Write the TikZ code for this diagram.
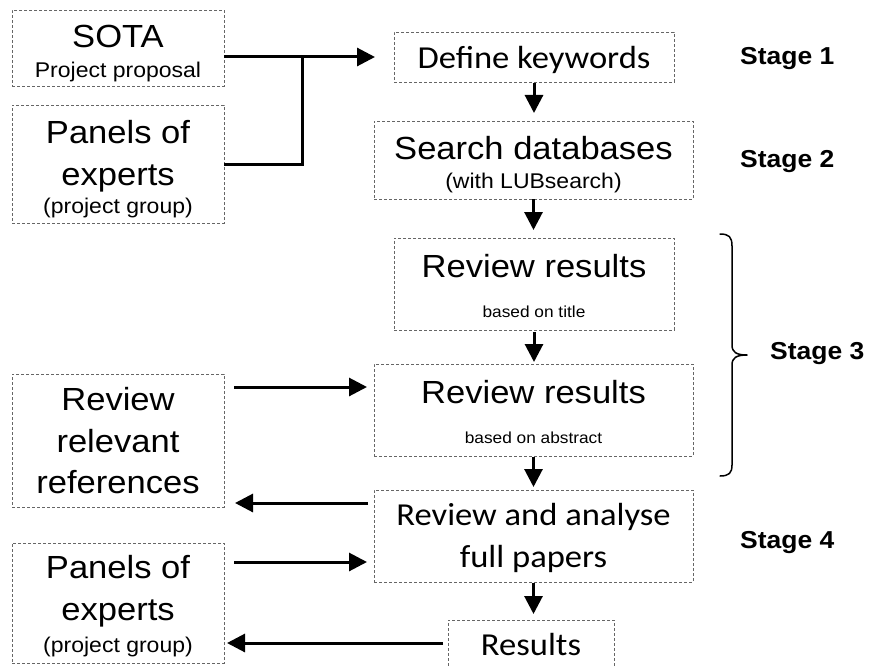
\documentclass[tikz,border=0pt]{standalone}
\usepackage{fontspec}
\setmainfont{Liberation Sans}[FakeStretch=1.08]
\newfontfamily\calfont{Carlito}[FakeStretch=1.08]
\usetikzlibrary{arrows.meta}
\tikzset{
  box/.style={draw=black!60, line width=0.8pt, dash pattern=on 3pt off 2pt, inner sep=0pt, outer sep=0pt},
  big/.style={font=\fontsize{32}{38}\selectfont, anchor=base, inner sep=0pt},
  small/.style={font=\fontsize{21.3}{26}\selectfont, anchor=base, inner sep=0pt},
  tiny/.style={font=\fontsize{16}{20}\selectfont, anchor=base, inner sep=0pt},
  cal/.style={font=\calfont\fontsize{32}{38}\selectfont, anchor=base, inner sep=0pt},
  stagelbl/.style={font=\bfseries\fontsize{24.5}{30}\selectfont, anchor=base west, inner sep=0pt},
  arr/.style={line width=3pt, -{Triangle[length=18pt,width=18pt]}},
  ln/.style={line width=3pt},
  bracestyle/.style={line width=1.5pt, line cap=round, line join=round}
}
\begin{document}
\begin{tikzpicture}[x=1pt,y=-1pt]
\useasboundingbox (0,0) rectangle (869,666);
% boxes
\node[box, minimum width=212pt, minimum height=76pt]  (sota)   at (118,48) {};
\node[box, minimum width=212pt, minimum height=118pt] (pan1)   at (118,164) {};
\node[box, minimum width=212pt, minimum height=133pt] (refs)   at (118,440.5) {};
\node[box, minimum width=212pt, minimum height=120pt] (pan2)   at (118,603) {};
\node[box, minimum width=280pt, minimum height=50pt]  (def)    at (534,57) {};
\node[box, minimum width=319pt, minimum height=78pt]  (search) at (533.5,160) {};
\node[box, minimum width=280pt, minimum height=92pt]  (rev1)   at (534,284) {};
\node[box, minimum width=319pt, minimum height=92pt]  (rev2)   at (533.5,410) {};
\node[box, minimum width=319pt, minimum height=92pt]  (ana)    at (533.5,536) {};
\node[box, minimum width=166pt, minimum height=60pt]  (res)    at (531,650) {};
% texts
\node[big]   (t1)  at (118,48)  {SOTA};
\node[small] (t2)  at (118,78)  {Project proposal};
\node[big]   (t3)  at (118,143) {Panels of};
\node[big]   (t4)  at (118,185) {experts};
\node[small] (t5)  at (118,213) {(project group)};
\node[big]   (t6)  at (118,410) {Review};
\node[big]   (t7)  at (118,452) {relevant};
\node[big]   (t8)  at (118,493) {references};
\node[big]   (t9)  at (118,578) {Panels of};
\node[big]   (t10) at (118,620) {experts};
\node[small] (t11) at (118,652) {(project group)};
\node[cal]   (t12) at (534,69)  {Define keywords};
\node[big]   (t13) at (533.5,159) {Search databases};
\node[small] (t14) at (533.5,188) {(with LUBsearch)};
\node[big]   (t15) at (534,277) {Review results};
\node[tiny]  (t16) at (534,317) {based on title};
\node[big]   (t17) at (533.5,403) {Review results};
\node[tiny]  (t18) at (533.5,443) {based on abstract};
\node[cal]   (t19) at (533.5,525) {Review and analyse};
\node[cal]   (t20) at (533.5,567) {full papers};
\node[cal]   (t21) at (531,655) {Results};
\node[stagelbl] (s1) at (740,65)  {Stage 1};
\node[stagelbl] (s2) at (740,167) {Stage 2};
\node[stagelbl] (s3) at (770,359) {Stage 3};
\node[stagelbl] (s4) at (740,548) {Stage 4};
% top-left connectors
\coordinate (j) at (302,57);
\draw[arr, shorten >=19pt] (sota.east |- def.west) -- (def.west);
\draw[ln] (pan1.east) -| (j);
% vertical chain
\draw[arr, shorten <=1pt, shorten >=8pt] (def.south) -- (def.south |- search.north);
\draw[arr, shorten <=0pt, shorten >=8pt] (search.south) -- (search.south |- rev1.north);
\draw[arr, shorten <=2pt, shorten >=2pt] (rev1.south) -- (rev1.south |- rev2.north);
\draw[arr, shorten <=1pt, shorten >=3pt] (rev2.south) -- (rev2.south |- ana.north);
\draw[arr, shorten <=1pt, shorten >=6pt] (ana.south) -- (ana.south |- res.north);
% side connectors
\coordinate (a1) at ([yshift=53.5pt]refs.east);
\draw[arr, shorten <=10pt, shorten >=7pt] (a1) -- (a1 -| rev2.west);
\coordinate (a2) at ([yshift=33pt]ana.west);
\draw[arr, shorten <=6pt, shorten >=11pt] (a2) -- (a2 -| refs.east);
\coordinate (a3) at ([yshift=41pt]pan2.east);
\draw[arr, shorten <=10pt, shorten >=7pt] (a3) -- (a3 -| ana.west);
\coordinate (a4) at ([yshift=7pt]res.west);
\draw[arr, shorten <=5pt, shorten >=3pt] (a4) -- (a4 -| pan2.east);
% brace for stage 3
\draw[bracestyle] (720,234) .. controls (729,234) and (732,237) .. (732,246)
  -- (732,345) .. controls (732,352) and (736,355) .. (747,355)
  .. controls (736,355) and (732,358) .. (732,365)
  -- (732,465) .. controls (732,473) and (729,476) .. (720,476);
\end{tikzpicture}
\end{document}
